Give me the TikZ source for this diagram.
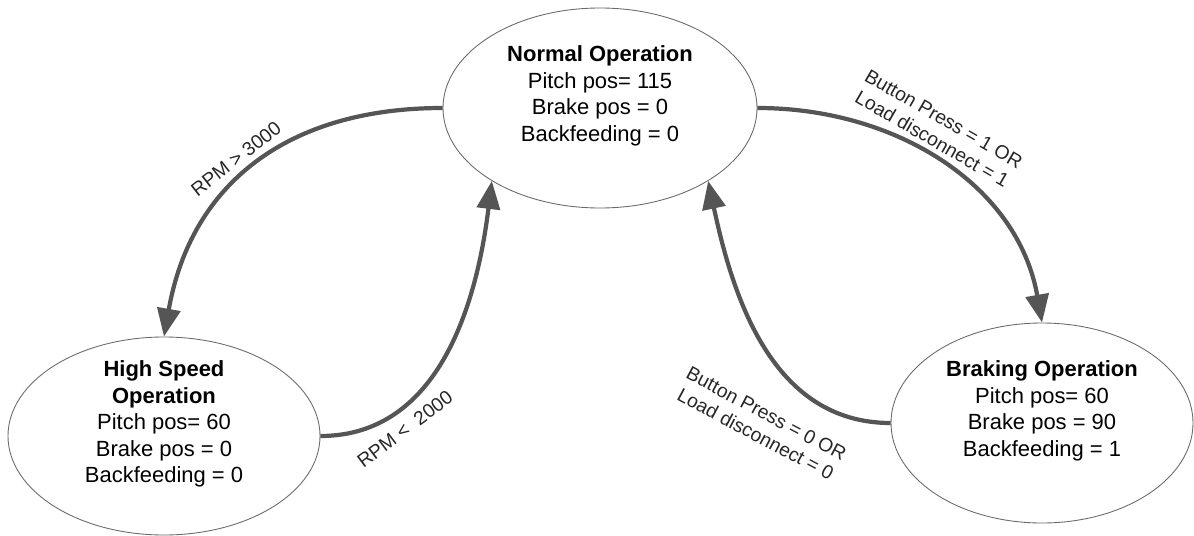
\documentclass[tikz,border=0pt]{standalone}
\usepackage{fontspec}
\setmainfont{Liberation Sans}
\usetikzlibrary{arrows.meta,shapes.geometric}
\definecolor{edgegray}{HTML}{555555}
\definecolor{rimgray}{HTML}{6A6A6A}
\tikzset{
	state/.style={ellipse, draw=rimgray, line width=0.5pt, inner sep=0pt},
	statetext/.style={align=center, font=\fontsize{12.5}{15.1}\selectfont},
	trans/.style={draw=edgegray, line width=2.4pt, -{Triangle[length=0.56cm, width=0.46cm]}},
	cond/.style={align=center, text=black!85, font=\fontsize{11}{13.2}\selectfont}
}

\begin{document}
\begin{tikzpicture}
	%%%%% START %%%%%
	\useasboundingbox (0, 0) rectangle (23.88, 10.7);
	
	\node[state, minimum width=6.28cm, minimum height=4.0cm] (normal) at (12.0, 8.54) {};
	\node[statetext] (normaltxt) at (12.0, 8.78) {\textbf{Normal Operation}\\Pitch pos= 115\\Brake pos = 0\\Backfeeding = 0};
	
	\node[state, minimum width=6.24cm, minimum height=3.96cm] (high) at (3.28, 1.98) {};
	\node[statetext] (hightxt) at (3.28, 2.22) {\textbf{High Speed}\\\textbf{Operation}\\Pitch pos= 60\\Brake pos = 0\\Backfeeding = 0};
	
	\node[state, minimum width=6.04cm, minimum height=4.0cm] (braking) at (20.84, 2.24) {};
	\node[statetext] (brakingtxt) at (20.84, 2.48) {\textbf{Braking Operation}\\Pitch pos= 60\\Brake pos = 90\\Backfeeding = 1};
	
	\draw[trans] (normal.west) to[out=180, in=80, looseness=1.1] (high.north);
	\draw[trans] (high.east) to[out=0, in=-97] (normal.-146);
	\draw[trans] (normal.east) to[out=0, in=100] (braking.north);
	\draw[trans] (braking.west) to[out=180, in=-78] (normal.-34);
	
	\node[cond, rotate=38] (up) at (4.72, 7.52) {RPM > 3000};
	\node[cond, rotate=37] (down) at (8.1, 2.12) {RPM <\ \ 2000};
	\node[cond, rotate=-30] (brakeon) at (18.76, 8.12) {Button Press = 1 OR\\Load disconnect = 1};
	\node[cond, rotate=-28] (brakeoff) at (15.22, 2.22) {Button Press = 0 OR\\Load disconnect = 0};
	
	%%%%% END %%%%%
\end{tikzpicture}
\end{document}
